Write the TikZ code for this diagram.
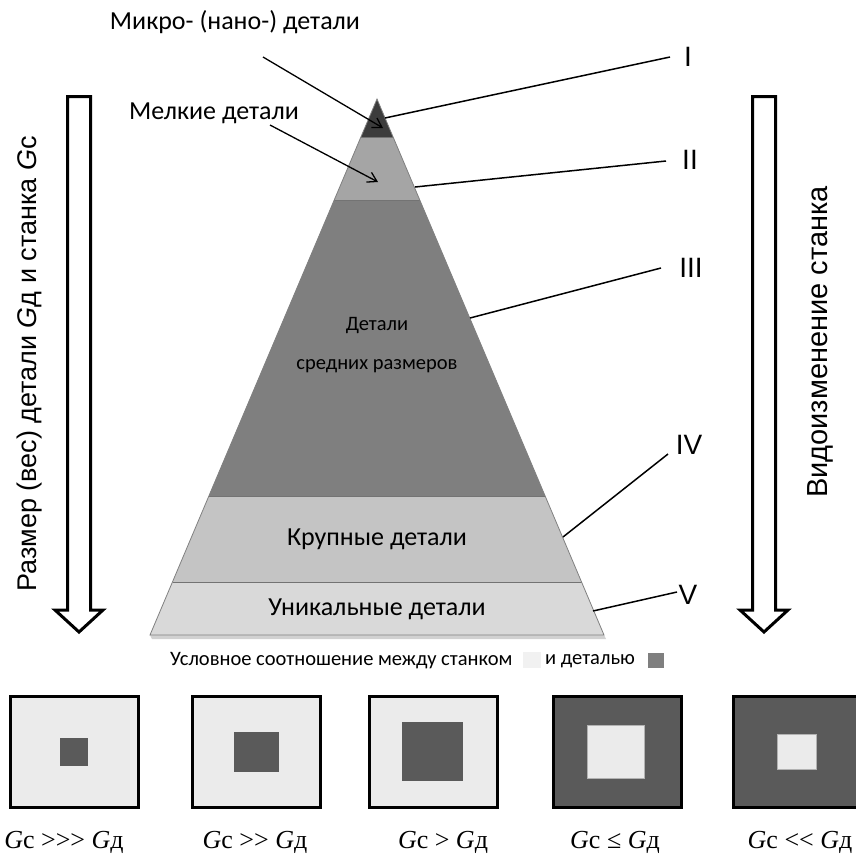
\documentclass[tikz,border=0pt]{standalone}
\usepackage{fontspec}
\setmainfont{Carlito}
\newfontfamily\arialf{Liberation Sans}
\newfontfamily\tnrf{Liberation Serif}
\usetikzlibrary{arrows.meta}
\definecolor{cI}{HTML}{3C3C3C}
\definecolor{cII}{HTML}{A5A5A5}
\definecolor{cIII}{HTML}{7F7F7F}
\definecolor{cIV}{HTML}{C4C4C4}
\definecolor{cV}{HTML}{D9D9D9}
\definecolor{light}{HTML}{EBEBEB}
\definecolor{dark}{HTML}{5A5A5A}
\tikzset{
  bnd/.style={draw=black!55, line width=0.8pt},
  edgeline/.style={draw=black!50, line width=0.8pt},
  lead/.style={draw=black, line width=1.5pt},
  ptr/.style={draw=black, line width=1.3pt, -{Straight Barb[length=9pt,width=11pt,line width=1.3pt]}},
  ptext/.style={font=\fontsize{26}{30}\selectfont, inner sep=0pt},
  mtext/.style={font=\fontsize{20.5}{24}\selectfont, inner sep=0pt},
  roman/.style={font=\arialf\fontsize{28}{32}\selectfont, inner sep=0pt},
  blockarrow/.style={draw=black, line width=3pt, fill=white, line join=miter},
  side/.style={font=\arialf\fontsize{27}{32}\selectfont, inner sep=0pt, rotate=90},
  sideb/.style={font=\arialf\fontsize{29}{34}\selectfont, inner sep=0pt, rotate=90},
  framebox/.style={draw=black, line width=3pt},
  innerbox/.style={draw=black!30, line width=0.6pt},
  cmp/.style={font=\tnrf\fontsize{26}{30}\selectfont, inner sep=0pt},
  legend/.style={font=\fontsize{20.5}{24}\selectfont, inner sep=0pt, anchor=west},
}
\begin{document}
\begin{tikzpicture}[x=1pt,y=-1pt]
\useasboundingbox (0,0) rectangle (855,855);
% ---------- pyramid ----------
\fill[black!18] (150,635) -- (604,635) -- (606,639) -- (152,639) -- cycle;
\fill[cV]   (172.5,582) -- (581.5,582) -- (604,635) -- (150,635) -- cycle;
\fill[cIV]  (208.9,496) -- (545.1,496) -- (581.5,582) -- (172.5,582) -- cycle;
\fill[cIII] (334.2,200) -- (419.8,200) -- (545.1,496) -- (208.9,496) -- cycle;
\fill[cII]  (360.9,137) -- (393.1,137) -- (419.8,200) -- (334.2,200) -- cycle;
\fill[cI]   (377,99) -- (393.1,137) -- (360.9,137) -- cycle;
\draw[bnd] (360.9,137) -- (393.1,137);
\draw[bnd] (334.2,200) -- (419.8,200);
\draw[bnd] (208.9,496) -- (545.1,496);
\draw[bnd] (172.5,582) -- (581.5,582);
\draw[edgeline] (377,99) -- (604,635) -- (150,635) -- cycle;
\node[mtext] (tIIIa) at (377,326) {Детали};
\node[mtext] (tIIIb) at (377,366) {средних размеров};
\node[ptext] (tIV) at (377,539) {Крупные детали};
\node[ptext] (tV) at (377,609) {Уникальные детали};
% ---------- top labels ----------
\node[ptext] (micro) at (235,22) {Микро- (нано-) детали};
\node[ptext] (small) at (214,113) {Мелкие детали};
\coordinate (mA) at (263,57);
\coordinate (mB) at (383,128);
\coordinate (sA) at (270,125);
\coordinate (sB) at (378,182);
\draw[ptr] (mA) -- (mB);
\draw[ptr] (sA) -- (sB);
% ---------- roman numerals ----------
\coordinate (pI) at (385,118);   \coordinate (eI) at (670,57);
\coordinate (pII) at (415,187);  \coordinate (eII) at (666,161);
\coordinate (pIII) at (470,318); \coordinate (eIII) at (661,268);
\coordinate (pIV) at (563,537);  \coordinate (eIV) at (668,454);
\coordinate (pV) at (593,611);   \coordinate (eV) at (677,592);
\draw[lead] (pI) -- (eI);
\draw[lead] (pII) -- (eII);
\draw[lead] (pIII) -- (eIII);
\draw[lead] (pIV) -- (eIV);
\draw[lead] (pV) -- (eV);
\node[roman] (nI) at (688,57) {I};
\node[roman] (nII) at (690,160) {II};
\node[roman] (nIII) at (691,268) {III};
\node[roman] (nIV) at (689,445) {IV};
\node[roman] (nV) at (688,595) {V};
% ---------- block arrows ----------
\draw[blockarrow] (67.5,96.5) -- (90.5,96.5) -- (90.5,610) -- (103,610) -- (79,632) -- (55,610) -- (67.5,610) -- cycle;
\draw[blockarrow] (752.5,96.5) -- (775.5,96.5) -- (775.5,610) -- (788,610) -- (764,632) -- (740,610) -- (752.5,610) -- cycle;
\node[side] (ltext) at (30,364) {Размер (вес) детали \textit{G}д и станка \textit{G}c};
\node[sideb] (rtext) at (820,342) {Видоизменение станка};
% ---------- legend ----------
\node[legend] (leg1) at (170,661) {Условное соотношение между станком};
\node[draw=none, fill=light!70!white, minimum width=18pt, minimum height=16pt, inner sep=0pt] (lsq) at (532,660) {};
\node[legend] (leg2) at (545,661) {и деталью};
\node[fill=cIII, minimum width=16pt, minimum height=15pt, inner sep=0pt] (dsq) at (656,660) {};
% ---------- comparison boxes ----------
\fill[light] (10,696) rectangle (138,807);
\fill[dark] (60,738) rectangle (88,766);
\draw[framebox] (10,696) rectangle (138,807);
\fill[light] (192,696) rectangle (320,807);
\fill[dark] (234,732) rectangle (279,772);
\draw[framebox] (192,696) rectangle (320,807);
\fill[light] (369,696) rectangle (497,807);
\fill[dark] (402,722) rectangle (463,781);
\draw[framebox] (369,696) rectangle (497,807);
\fill[dark] (553,696) rectangle (681,807);
\filldraw[fill=light, innerbox] (587,725) rectangle (644,778);
\draw[framebox] (553,696) rectangle (681,807);
\fill[dark] (733,696) rectangle (861,807);
\filldraw[fill=light, innerbox] (777,734) rectangle (816,769);
\draw[framebox] (733,696) rectangle (861,807);
\node[cmp] (c1) at (64,842) {\textit{G}с >>> \textit{G}д};
\node[cmp] (c2) at (255,842) {\textit{G}с >> \textit{G}д};
\node[cmp] (c3) at (443,842) {\textit{G}с > \textit{G}д};
\node[cmp] (c4) at (615,842) {\textit{G}с ≤ \textit{G}д};
\node[cmp] (c5) at (800,842) {\textit{G}с << \textit{G}д};
\end{tikzpicture}
\end{document}
